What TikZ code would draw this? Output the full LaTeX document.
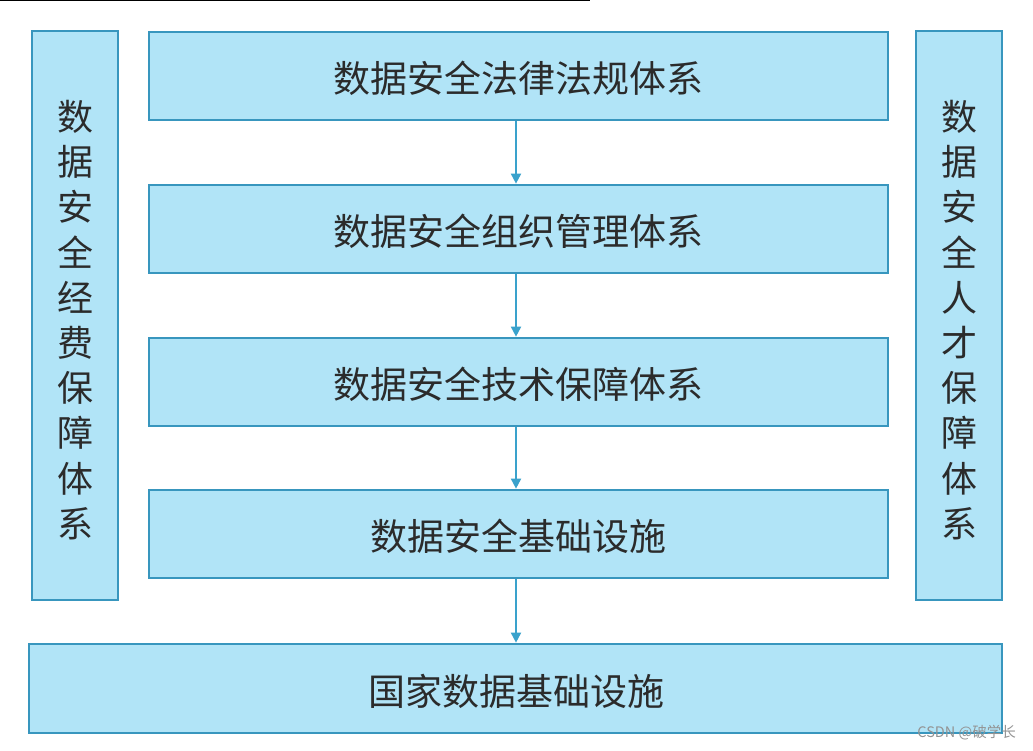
\documentclass[tikz,border=0pt]{standalone}
\usepackage{fontspec}
\newfontfamily\cjk{Noto Sans CJK SC}
\usetikzlibrary{arrows.meta}
\definecolor{boxfill}{HTML}{B1E4F7}
\definecolor{boxline}{HTML}{3896BE}
\definecolor{arrowc}{HTML}{3AA2CC}
\definecolor{txt}{HTML}{2B2B2B}
\tikzset{
  box/.style={draw=boxline, fill=boxfill, line width=2.7pt, inner sep=0pt},
  lbl/.style={font=\cjk\fontsize{37}{40}\selectfont, text=txt},
  vlbl/.style={font=\cjk\fontsize{36}{45.2}\selectfont, text=txt, align=center},
  flow/.style={draw=arrowc, line width=1.8pt, -{Triangle[length=10pt,width=10pt]}}
}
\begin{document}
\begin{tikzpicture}[x=1pt,y=-1pt]
\useasboundingbox[fill=white] (0,0) rectangle (1033,750);
\draw[black, line width=1.5pt] (0,0.5) -- (590,0.5);
% side boxes
\draw[box] (32,31) rectangle (118,600);
\node[vlbl] (left) at (75,320) {数\\据\\安\\全\\经\\费\\保\\障\\体\\系};
\draw[box] (916,31) rectangle (1002,600);
\node[vlbl] (right) at (959,320) {数\\据\\安\\全\\人\\才\\保\\障\\体\\系};
% main boxes
\node[box, minimum width=739pt, minimum height=88pt] (b1) at (518.5,76) {};
\node[lbl] at (518,78) {数据安全法律法规体系};
\node[box, minimum width=739pt, minimum height=88pt] (b2) at (518.5,229) {};
\node[lbl] at (518,231) {数据安全组织管理体系};
\node[box, minimum width=739pt, minimum height=88pt] (b3) at (518.5,382) {};
\node[lbl] at (518,384) {数据安全技术保障体系};
\node[box, minimum width=739pt, minimum height=88pt] (b4) at (518.5,534) {};
\node[lbl] at (518,536) {数据安全基础设施};
\node[box, minimum width=973pt, minimum height=89pt] (b5) at (515.5,688.5) {};
\node[lbl] at (516,691) {国家数据基础设施};
% arrows
\coordinate (ax) at (516,0);
\draw[flow] (ax |- b1.south) -- (ax |- b2.north);
\draw[flow] (ax |- b2.south) -- (ax |- b3.north);
\draw[flow] (ax |- b3.south) -- (ax |- b4.north);
\draw[flow] (ax |- b4.south) -- (ax |- b5.north);
% watermark
\node[font=\cjk\fontsize{14.5}{15}\selectfont, text=gray!85, anchor=east, inner sep=0pt] (wm) at (1016,733) {CSDN @破学长};
\end{tikzpicture}
\end{document}
